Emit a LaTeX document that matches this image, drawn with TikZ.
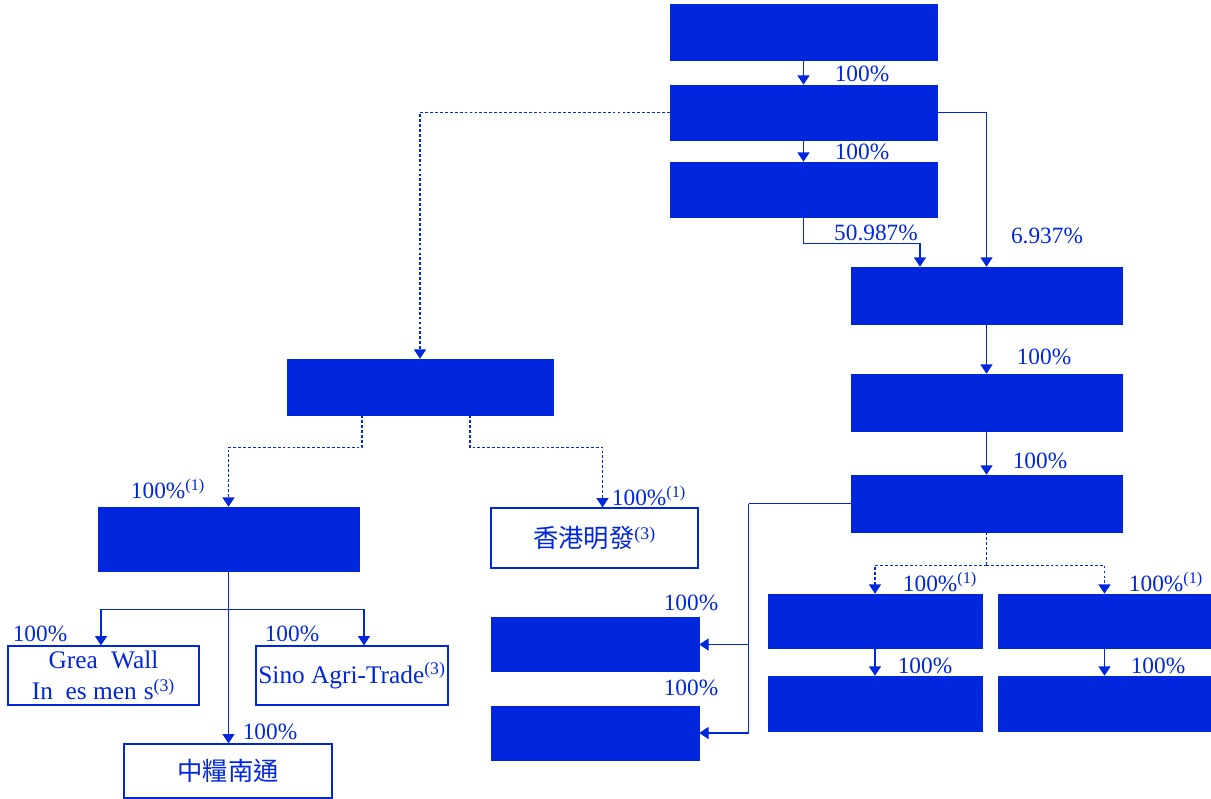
\documentclass[tikz,border=0pt]{standalone}
\usepackage{fontspec}
\setmainfont{Liberation Serif}
\newfontfamily\cjk{Noto Sans CJK TC}
\usetikzlibrary{arrows.meta,positioning}
\definecolor{chartblue}{RGB}{0,38,222}

\begin{document}
\begin{tikzpicture}[x=0.75pt,y=-0.75pt,
  box/.style={fill=chartblue,draw=chartblue,inner sep=0pt},
  obox/.style={draw=chartblue,fill=white,text=chartblue,inner sep=0pt,align=center,font=\fontsize{19}{23}\selectfont,line width=0.9pt},
  arrow/.style={-{Triangle[width=9pt,length=7pt]},draw=chartblue,line width=0.9pt},
  link/.style={draw=chartblue,line width=0.9pt},
  dotline/.style={dash pattern=on 2.1pt off 1.6pt},
  pct/.style={text=chartblue,inner sep=0pt,font=\fontsize{17.5}{20}\selectfont}
]
\useasboundingbox (0,0) rectangle (1211,799);
% top chain
\node[box,minimum width=200.25pt,minimum height=42pt] (top) at (803.5,32) {};
\node[box,minimum width=200.25pt,minimum height=41.25pt] (hold) at (803.5,112.5) {};
\node[box,minimum width=200.25pt,minimum height=41.25pt] (sub) at (803.5,189.5) {};
% right chain
\node[box,minimum width=203.25pt,minimum height=42.75pt] (listco) at (986.5,295.5) {};
\node[box,minimum width=203.25pt,minimum height=42.75pt] (midco) at (986.5,402.5) {};
\node[box,minimum width=203.25pt,minimum height=42.75pt] (opco) at (986.5,503.5) {};
\node[box,minimum width=160.5pt,minimum height=40.5pt] (opl) at (875,621) {};
\node[box,minimum width=160pt,minimum height=40.5pt] (opr) at (1104.5,621) {};
\node[box,minimum width=160.5pt,minimum height=41.25pt] (opll) at (875,703.5) {};
\node[box,minimum width=160pt,minimum height=41.25pt] (oprr) at (1104.5,703.5) {};
\node[box,minimum width=156pt,minimum height=40.5pt] (sidea) at (595,644.5) {};
\node[box,minimum width=156pt,minimum height=40.5pt] (sideb) at (595,733) {};
% left chain
\node[box,minimum width=199.5pt,minimum height=42pt] (bvi) at (420,387) {};
\node[box,minimum width=195.75pt,minimum height=48pt] (invco) at (228.5,539) {};
\node[obox,minimum width=155.25pt,minimum height=45pt] (hkmf) at (594.5,538) {{\cjk 香港明發}\textsuperscript{(3)}};
\node[obox,minimum width=143.25pt,minimum height=44.25pt] (gwall) at (103.5,675.5) {Grea\hphantom{t} Wall\\In\hphantom{v}es men\hphantom{t}s\textsuperscript{(3)}};
\node[obox,minimum width=144pt,minimum height=44.25pt] (sino) at (352,675.5) {Sino Agri-Trade\textsuperscript{(3)}};
\node[obox,minimum width=156pt,minimum height=40.5pt] (nantong) at (228,771) {\cjk 中糧南通};

% connectors
\draw[arrow] (top) -- (hold);
\draw[arrow] (hold) -- (sub);
\draw[arrow] (sub.south) -- ++(0,26) -| ([xshift=-49.9pt]listco.north);
\draw[arrow] (hold.east) -| (listco.north);
\draw[arrow,dotline] (hold.west) -| (bvi.north);
\draw[arrow] (listco) -- (midco);
\draw[arrow] (midco) -- (opco);
\draw[link] (opco.west) -- ++(-102,0) coordinate (opbend);
\draw[arrow] (opbend) |- (sidea.east);
\draw[arrow] (opbend) |- (sideb.east);
\draw[link,dotline] (opco.south) -- ++(0,33) coordinate (opfork);
\draw[arrow,dotline] (opfork) -| (opl.north);
\draw[arrow,dotline] (opfork) -| (opr.north);
\draw[arrow] (opl) -- (opll);
\draw[arrow] (opr) -- (oprr);
\draw[arrow,dotline] ([xshift=-43.5pt]bvi.south) -- ++(0,32) -| (invco.north);
\draw[arrow,dotline] ([xshift=37.5pt]bvi.south) -- ++(0,32) -| ([xshift=6pt]hkmf.north);
\draw[arrow] (invco.south) -- (invco.south |- nantong.north);
\coordinate (invfork) at ([yshift=-28.5pt]invco.south);
\draw[arrow] (invfork) -| ([xshift=-1.9pt]gwall.north);
\draw[arrow] (invfork) -| ([xshift=9pt]sino.north);

% percentages
\node[pct] (p1) at (862,74) {100\%};
\node[pct] (p2) at (862,152) {100\%};
\node[pct] (p3) at (876,233) {50.987\%};
\node[pct] (p4) at (1047,236) {6.937\%};
\node[pct] (p5) at (1044,357) {100\%};
\node[pct] (p6) at (1040,461) {100\%};
\node[pct] (p7) at (940,582) {100\%\textsuperscript{(1)}};
\node[pct] (p8) at (1166,582) {100\%\textsuperscript{(1)}};
\node[pct] (p9) at (925,666) {100\%};
\node[pct] (p10) at (1158,666) {100\%};
\node[pct] (p11) at (691,603) {100\%};
\node[pct] (p12) at (691,688) {100\%};
\node[pct] (p13) at (168,489) {100\%\textsuperscript{(1)}};
\node[pct] (p14) at (649,496) {100\%\textsuperscript{(1)}};
\node[pct] (p15) at (40,634) {100\%};
\node[pct] (p16) at (292,634) {100\%};
\node[pct] (p17) at (270,732) {100\%};
\end{tikzpicture}
\end{document}
